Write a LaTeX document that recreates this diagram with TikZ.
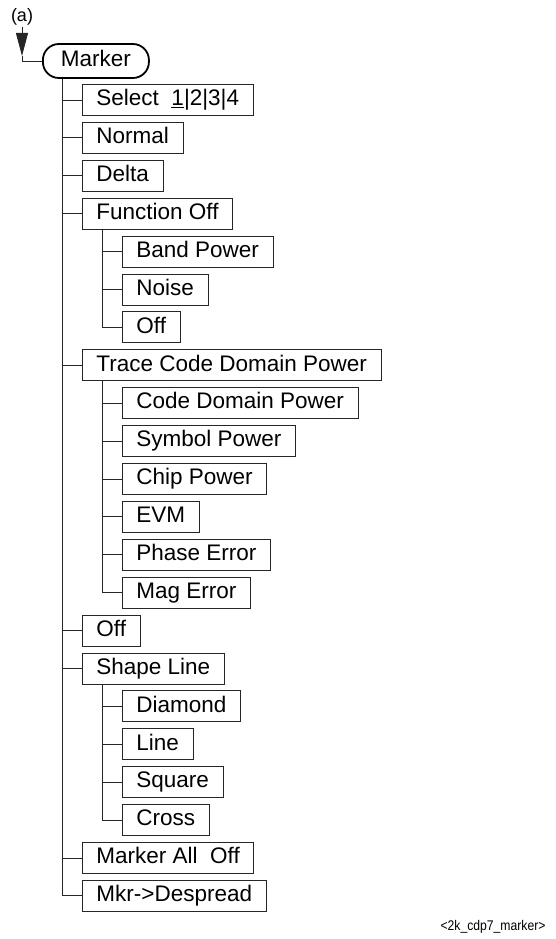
\documentclass[tikz,border=0pt]{standalone}
\usepackage{fontspec}
\setmainfont{Liberation Sans}
\newfontfamily\tagfont[FakeStretch=0.87]{Liberation Sans}
\usetikzlibrary{arrows.meta,positioning}

\begin{document}
\begin{tikzpicture}[x=1pt,y=1pt,>={Triangle[length=23pt,width=12pt]},node distance=6pt,
 ln/.style={draw=black!85,line width=0.9pt},
 b/.style={ln,anchor=west,minimum height=31pt,inner xsep=14pt,text height=16pt,text depth=4.5pt,font=\fontsize{22.5}{26}\selectfont},
 nx/.style={below=of #1.south west,anchor=north west},
 mk/.style={draw,line width=1.8pt,rounded corners=16pt,minimum height=34pt,inner xsep=18pt,text height=16pt,text depth=4.5pt,font=\fontsize{22.5}{26}\selectfont}]
\useasboundingbox (0,0) rectangle (556,-939);
\node[font=\fontsize{18}{20}\selectfont,inner sep=1pt] (lbl) at (22,-17) {(a)};
\coordinate (tip) at (22,-56);
\node[mk,anchor=west] (marker) at (42,-61) {Marker};
\draw[ln,->] (lbl) -- (tip);
\draw[ln] (tip) |- (marker.west);
% first level
\node[b] (sel) at (82,-100) {Select\ \ \underline{1}|2|3|4};
\node[b,nx=sel] (normal) {Normal};
\node[b,nx=normal] (delta) {Delta};
\node[b,nx=delta] (fnoff) {Function Off};
\node[b,nx=fnoff,xshift=40pt] (band) {Band Power};
\node[b,nx=band] (noise) {Noise};
\node[b,nx=noise] (fnoffoff) {Off};
\node[b,nx=fnoffoff,xshift=-40pt] (trace) {Trace Code Domain Power};
\node[b,nx=trace,xshift=40pt] (cdp) {Code Domain Power};
\node[b,nx=cdp] (sym) {Symbol Power};
\node[b,nx=sym] (chip) {Chip Power};
\node[b,nx=chip] (evm) {EVM};
\node[b,nx=evm] (phase) {Phase Error};
\node[b,nx=phase] (mag) {Mag Error};
\node[b,nx=mag,xshift=-40pt] (off) {Off};
\node[b,nx=off] (shape) {Shape Line};
\node[b,nx=shape,xshift=40pt] (diamond) {Diamond};
\node[b,nx=diamond] (line) {Line};
\node[b,nx=line] (square) {Square};
\node[b,nx=square] (cross) {Cross};
\node[b,nx=cross,xshift=-40pt] (mkoff) {Marker All\ \ Off};
\node[b,nx=mkoff] (desp) {Mkr->Despread};
% tree lines
\coordinate (trunk) at (62,0);
\draw[ln] (trunk |- marker.south) |- (desp.west);
\foreach \n in {sel,normal,delta,fnoff,trace,off,shape,mkoff}
 \draw[ln] (trunk |- \n.west) -- (\n.west);
\draw[ln] ([xshift=20pt]fnoff.south west) |- (fnoffoff.west);
\foreach \n in {band,noise} \draw[ln] ([xshift=-20pt]\n.west) -- (\n.west);
\draw[ln] ([xshift=20pt]trace.south west) |- (mag.west);
\foreach \n in {cdp,sym,chip,evm,phase} \draw[ln] ([xshift=-20pt]\n.west) -- (\n.west);
\draw[ln] ([xshift=20pt]shape.south west) |- (cross.west);
\foreach \n in {diamond,line,square} \draw[ln] ([xshift=-20pt]\n.west) -- (\n.west);
\node[anchor=east,font=\tagfont\fontsize{14}{16}\selectfont] (tag) at (549,-927) {<2k\_cdp7\_marker>};
\end{tikzpicture}
\end{document}
